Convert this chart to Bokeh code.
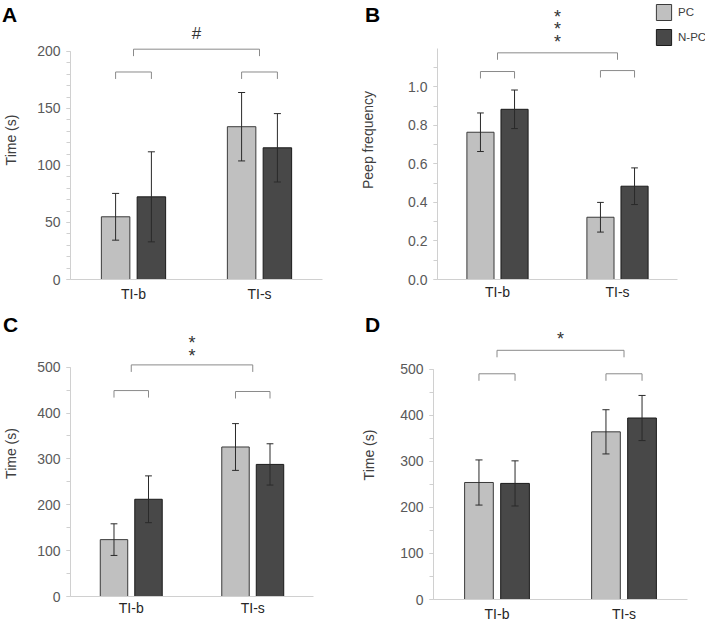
from bokeh.plotting import figure
from bokeh.models import (ColumnDataSource, FactorRange, Range1d, SingleIntervalTicker,
                          PrintfTickFormatter, Label, Legend, LegendItem, Div, GlobalInlineStyleSheet)
from bokeh.transform import dodge
from bokeh.layouts import column, row
from bokeh.embed import file_html
from bokeh.resources import INLINE

# ---------------- data ----------------
categories = ["TI-b", "TI-s"]
groups = ["PC", "N-PC"]

a_pc = [55, 134]
a_pc_err = [20.5, 30]
a_npc = [72.5, 115.5]
a_npc_err = [39.5, 30]

b_pc = [0.764, 0.323]
b_pc_err = [0.100, 0.077]
b_npc = [0.883, 0.484]
b_npc_err = [0.100, 0.095]

c_pc = [124, 326]
c_pc_err = [34.5, 51]
c_npc = [212, 288]
c_npc_err = [51, 45]

d_pc = [254, 364]
d_pc_err = [49, 48]
d_npc = [252, 394]
d_npc_err = [49, 49]

# significance annotations (within-condition bracket heights, between bracket height, marks)
a_within = [182, 182]
a_between = 202
a_marks = ["#"]
b_within = [1.079, 1.084]
b_between = 1.176
b_marks = ["*", "*", "*"]
c_within = [449, 447]
c_between = 505
c_marks = ["*", "*"]
d_within = [490, 490]
d_between = 541
d_marks = ["*"]

panel_letters = ["A", "B", "C", "D"]

FONT = "Liberation Sans"
PC_FILL, PC_LINE = "#c0c0c0", "#3a3a3a"
NPC_FILL, NPC_LINE = "#484848", "#1a1a1a"
AXIS_COL = "#d0d0d0"
BRACKET_COL = "#8a8a8a"
OFF = 0.142
BAR_W = 0.226
CAP = 0.028


def make_panel(pc, pc_err, npc, npc_err, ylabel, y_top, y_bound, tick_int, n_minor, fmt,
               left, frame_w, right, frame_h, bottom, label_standoff, x_standoff,
               within, between, drop, marks, mark_ys, mark_size, legend=False):
    p = figure(x_range=FactorRange(*categories, range_padding=0),
               y_range=Range1d(0, y_top),
               frame_width=frame_w, frame_height=frame_h,
               min_border_left=left, min_border_right=right,
               min_border_top=0, min_border_bottom=bottom,
               output_backend="svg", toolbar_location=None,
               outline_line_color=None, background_fill_color="white")
    p.xgrid.grid_line_color = None
    p.ygrid.grid_line_color = None

    src = ColumnDataSource(dict(
        cat=categories, pc=pc, npc=npc,
        pc_lo=[v - e for v, e in zip(pc, pc_err)], pc_hi=[v + e for v, e in zip(pc, pc_err)],
        npc_lo=[v - e for v, e in zip(npc, npc_err)], npc_hi=[v + e for v, e in zip(npc, npc_err)],
        w=within, wlo=[w - drop for w in within]))

    r_pc = p.vbar(x=dodge("cat", -OFF, range=p.x_range), top="pc", width=BAR_W, source=src,
                  fill_color=PC_FILL, line_color=PC_LINE, line_width=1)
    r_npc = p.vbar(x=dodge("cat", OFF, range=p.x_range), top="npc", width=BAR_W, source=src,
                   fill_color=NPC_FILL, line_color=NPC_LINE, line_width=1)

    # error bars
    for off, lo, hi in [(-OFF, "pc_lo", "pc_hi"), (OFF, "npc_lo", "npc_hi")]:
        p.segment(x0=dodge("cat", off, range=p.x_range), y0=lo,
                  x1=dodge("cat", off, range=p.x_range), y1=hi,
                  source=src, line_color="#2a2a2a", line_width=1)
        for end in (lo, hi):
            p.segment(x0=dodge("cat", off - CAP, range=p.x_range), y0=end,
                      x1=dodge("cat", off + CAP, range=p.x_range), y1=end,
                      source=src, line_color="#2a2a2a", line_width=1)

    # within-condition brackets
    p.segment(x0=dodge("cat", -OFF, range=p.x_range), y0="w",
              x1=dodge("cat", OFF, range=p.x_range), y1="w",
              source=src, line_color=BRACKET_COL, line_width=1)
    for off in (-OFF, OFF):
        p.segment(x0=dodge("cat", off, range=p.x_range), y0="w",
                  x1=dodge("cat", off, range=p.x_range), y1="wlo",
                  source=src, line_color=BRACKET_COL, line_width=1)

    # between-condition bracket
    bsrc = ColumnDataSource(dict(x0=[categories[0], categories[0], categories[1]],
                                 x1=[categories[1], categories[0], categories[1]],
                                 y0=[between, between, between],
                                 y1=[between, between - drop, between - drop]))
    p.segment(x0="x0", y0="y0", x1="x1", y1="y1", source=bsrc,
              line_color=BRACKET_COL, line_width=1)

    for m, my in zip(marks, mark_ys):
        p.add_layout(Label(x=1.0, y=my, text=m, text_align="center", text_baseline="middle",
                           text_font=FONT, text_font_size=mark_size, text_color="#333333"))

    yax = p.yaxis[0]
    yax.ticker = SingleIntervalTicker(interval=tick_int, num_minor_ticks=n_minor)
    yax.bounds = (0, y_bound)
    if fmt:
        yax.formatter = PrintfTickFormatter(format=fmt)
    yax.axis_label = ylabel
    yax.axis_label_text_font = FONT
    yax.axis_label_text_font_size = "14px"
    yax.axis_label_text_font_style = "normal"
    yax.axis_label_text_color = "#404040"
    yax.axis_label_standoff = label_standoff
    yax.axis_line_color = AXIS_COL
    yax.major_tick_line_color = AXIS_COL
    yax.minor_tick_line_color = AXIS_COL
    yax.major_tick_in = 0
    yax.major_tick_out = 4
    yax.minor_tick_in = 0
    yax.minor_tick_out = 4
    yax.major_label_text_font = FONT
    yax.major_label_text_font_size = "14px"
    yax.major_label_text_color = "#595959"
    yax.major_label_standoff = 6

    xax = p.xaxis[0]
    xax.axis_line_color = AXIS_COL
    xax.major_tick_line_color = None
    xax.major_tick_out = 0
    xax.major_label_text_font = FONT
    xax.major_label_text_font_size = "14px"
    xax.major_label_text_color = "#262626"
    xax.major_label_standoff = x_standoff

    if legend:
        lg = Legend(items=[LegendItem(label=groups[0], renderers=[r_pc]),
                           LegendItem(label=groups[1], renderers=[r_npc])],
                    location=(-23, 232), orientation="vertical",
                    glyph_width=19, glyph_height=20, spacing=5, padding=0, margin=-10,
                    label_standoff=5, label_height=20,
                    label_text_font=FONT, label_text_font_size="11.5px", label_text_color="#404040",
                    border_line_color=None, background_fill_alpha=0)
        p.add_layout(lg, "right")
    return p


pA = make_panel(a_pc, a_pc_err, a_npc, a_npc_err, "Time (s)", 244.7, 200, 50, 5, None,
                65, 252, 33, 279, 31, 15, 6, a_within, a_between, 6.1, a_marks, [215.8], "17px")
pB = make_panel(b_pc, b_pc_err, b_npc, b_npc_err, "Peep frequency", 1.4475, 1.2, 0.2, 2, "%.1f",
                82, 240, 33, 279, 31, 29, 4, b_within, b_between, 0.036, b_marks,
                [1.362, 1.298, 1.232], "18px", legend=True)
pC = make_panel(c_pc, c_pc_err, c_npc, c_npc_err, "Time (s)", 623.6, 500, 100, 2, None,
                65, 243, 42, 286, 25, 15, 3, c_within, c_between, 15.3, c_marks,
                [553, 524], "18px")
pD = make_panel(d_pc, d_pc_err, d_npc, d_npc_err, "Time (s)", 627.4, 500, 100, 2, None,
                78, 254, 23, 289, 25, 20, 6, d_within, d_between, 15.2, d_marks,
                [565], "18px")

# panel letters, overlaid as absolutely positioned text
letter_pos = [(2, 3), (365, 3), (3, 313), (365, 313)]
letters = [Div(text=t, styles={"position": "absolute", "left": f"{x}px", "top": f"{y}px",
                               "font-family": FONT, "font-size": "21px", "font-weight": "bold",
                               "color": "black", "line-height": "normal", "margin": "0",
                               "padding": "0", "z-index": "10"})
           for t, (x, y) in zip(panel_letters, letter_pos)]

layout = column(row(pA, pB), row(pC, pD), *letters)
layout.stylesheets = [GlobalInlineStyleSheet(css="html, body { margin: 0 !important; padding: 0; overflow: hidden; }")]

open("out.html", "w").write(file_html(layout, INLINE))
